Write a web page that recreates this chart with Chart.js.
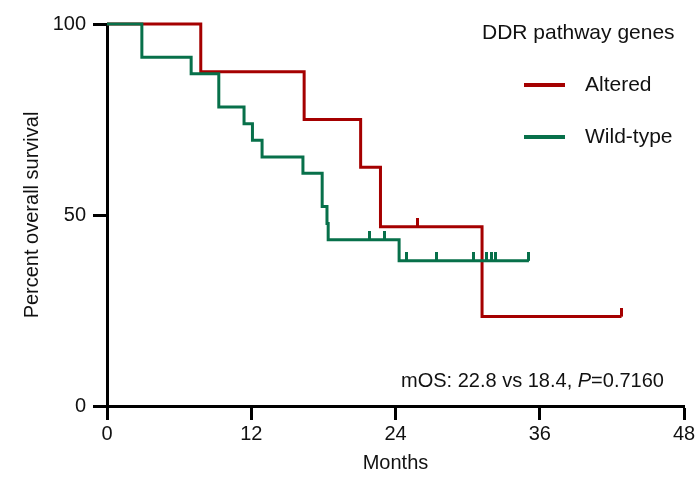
<!DOCTYPE html>
<html>
<head>
<meta charset="utf-8">
<script src="https://cdn.jsdelivr.net/npm/chart.js@4.4.0/dist/chart.umd.min.js"></script>
<style>
  body { margin: 0; background: #fff; }
  #wrap { width: 699px; height: 478px; }
</style>
</head>
<body>
<div id="wrap"><canvas id="canvas" width="699" height="478"></canvas></div>
<script>
// Kaplan-Meier steps (months, % surviving after each event)
const alteredTimes = [0, 7.8, 16.4, 21.1, 22.75, 31.2, 42.8];
const alteredSurv = [100, 87.5, 75, 62.5, 46.9, 23.4, 23.4];
const alteredCensorTimes = [25.8, 42.8];
const alteredCensorSurv = [46.9, 23.4];

const wildTimes = [0, 2.9, 7.0, 9.3, 11.4, 12.1, 12.9, 16.3, 17.9, 18.3, 18.4, 24.3, 35.1];
const wildSurv = [100, 91.3, 87.0, 78.3, 73.9, 69.6, 65.2, 60.9, 52.2, 47.8, 43.5, 38.0, 38.0];
const wildCensorTimes = [21.8, 23.1, 24.9, 27.4, 30.5, 31.6, 32.0, 32.3, 35.1];
const wildCensorSurv = [43.5, 43.5, 38.0, 38.0, 38.0, 38.0, 38.0, 38.0, 38.0];

const xTicks = [0, 12, 24, 36, 48];
const yTicks = [0, 50, 100];

const RED = "#a50000";
const GREEN = "#07704a";
const FONT = "'Liberation Sans', Arial, sans-serif";

// censor mark: short vertical tick above the curve
function censorMark(color) {
  const c = document.createElement("canvas");
  c.width = 3;
  c.height = 18;
  const g = c.getContext("2d");
  g.fillStyle = color;
  g.fillRect(0, 0, 3, 9);
  return c;
}

const pts = (xs, ys) => xs.map((x, i) => ({ x: x, y: ys[i] }));

const legendPlugin = {
  id: "kmLegend",
  afterDraw(chart) {
    const ctx = chart.ctx;
    ctx.save();
    ctx.font = "21px " + FONT;
    ctx.fillStyle = "#111";
    ctx.textBaseline = "middle";
    ctx.textAlign = "left";
    ctx.fillText("DDR pathway genes", 482, 33);

    const items = [["Altered", RED, 85], ["Wild-type", GREEN, 137]];
    items.forEach(([label, col, y]) => {
      ctx.fillStyle = col;
      ctx.fillRect(524, y - 2, 41, 4);
      ctx.fillStyle = "#111";
      ctx.fillText(label, 585, y);
    });

    // median OS / p-value note
    const a = "mOS: 22.8 vs 18.4, ";
    const p = "P";
    const b = "=0.7160";
    const y = 381;
    let x = 401;
    ctx.font = "20px " + FONT;
    ctx.fillText(a, x, y);
    x += ctx.measureText(a).width;
    ctx.font = "italic 20px " + FONT;
    ctx.fillText(p, x, y);
    x += ctx.measureText(p).width;
    ctx.font = "20px " + FONT;
    ctx.fillText(b, x, y);
    ctx.restore();
  }
};

new Chart("canvas", {
  type: "line",
  data: {
    datasets: [
      {
        label: "Altered",
        data: pts(alteredTimes, alteredSurv),
        borderColor: RED,
        borderWidth: 3,
        stepped: true,
        pointRadius: 0,
        fill: false,
        clip: false,
        order: 2
      },
      {
        label: "Wild-type",
        data: pts(wildTimes, wildSurv),
        borderColor: GREEN,
        borderWidth: 3,
        stepped: true,
        pointRadius: 0,
        fill: false,
        clip: false,
        order: 1
      },
      {
        label: "Altered censored",
        data: pts(alteredCensorTimes, alteredCensorSurv),
        showLine: false,
        pointStyle: censorMark(RED),
        clip: false,
        order: 2
      },
      {
        label: "Wild-type censored",
        data: pts(wildCensorTimes, wildCensorSurv),
        showLine: false,
        pointStyle: censorMark(GREEN),
        clip: false,
        order: 1
      }
    ]
  },
  options: {
    responsive: false,
    animation: false,
    events: [],
    layout: { padding: { left: 0, right: 15, top: 24, bottom: 0 } },
    plugins: {
      legend: { display: false },
      tooltip: { enabled: false }
    },
    scales: {
      x: {
        type: "linear",
        min: 0,
        max: 48,
        afterBuildTicks: (s) => { s.ticks = xTicks.map(v => ({ value: v })); },
        afterFit: (s) => { s.height = 72; },
        border: { display: true, color: "#000", width: 3 },
        grid: { drawOnChartArea: false, drawTicks: true, tickLength: 14, tickWidth: 3, tickColor: "#000" },
        ticks: { color: "#111", padding: 2, maxRotation: 0, font: { family: FONT, size: 20 } },
        title: { display: true, text: "Months", color: "#111", padding: { top: 0, bottom: 3 }, font: { family: FONT, size: 20 } }
      },
      y: {
        type: "linear",
        min: 0,
        max: 100,
        afterBuildTicks: (s) => { s.ticks = yTicks.map(v => ({ value: v })); },
        afterFit: (s) => { s.width = 107; },
        border: { display: true, color: "#000", width: 3 },
        grid: { drawOnChartArea: false, drawTicks: true, tickLength: 14, tickWidth: 3, tickColor: "#000" },
        ticks: { color: "#111", padding: 7, font: { family: FONT, size: 20 } },
        title: { display: true, text: "Percent overall survival", color: "#111", padding: { top: 20, bottom: 0 }, font: { family: FONT, size: 20 } }
      }
    }
  },
  plugins: [legendPlugin]
});
</script>
</body>
</html>
